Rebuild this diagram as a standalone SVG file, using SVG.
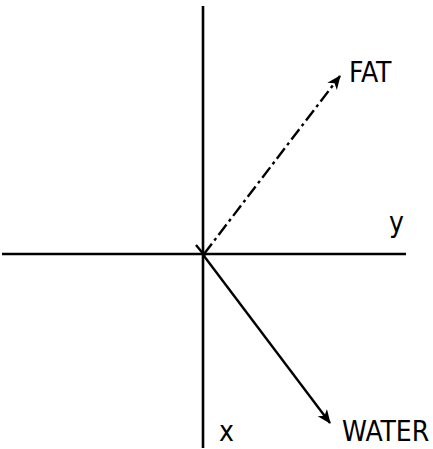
<svg xmlns="http://www.w3.org/2000/svg" width="433" height="449" viewBox="0 0 433 449">
<style>
.ax{stroke:#000;stroke-width:2.6;fill:none}
.vec{stroke:#000;stroke-width:2.4;fill:none}
.lbl{font-family:"DejaVu Sans Condensed","DejaVu Sans","Liberation Sans",sans-serif;font-stretch:condensed;font-size:28px;fill:#000}
</style>
<defs>
<marker id="ah" viewBox="0 0 14 12" refX="13" refY="6" markerWidth="14" markerHeight="12" markerUnits="userSpaceOnUse" orient="auto">
<path d="M0,0 L14,6 L0,12 L4,6 Z" fill="#000"/>
</marker>
</defs>
<rect width="433" height="449" fill="#fff"/>
<g id="axes">
<line class="ax" x1="203" y1="6" x2="203" y2="448"/>
<line class="ax" x1="2" y1="254" x2="406" y2="254"/>
</g>
<g id="connectors">
<line class="vec" x1="196" y1="245" x2="205" y2="256"/>
<line class="vec" x1="204" y1="254" x2="340" y2="76" stroke-dasharray="13 4 3 4" marker-end="url(#ah)"/>
<line class="vec" x1="204" y1="256" x2="330" y2="423" marker-end="url(#ah)"/>
</g>
<g id="fat"><text class="lbl" x="349" y="82">FAT</text></g>
<g id="water"><text class="lbl" x="342" y="441">WATER</text></g>
<g id="y"><text class="lbl" x="389" y="232">y</text></g>
<g id="x"><text class="lbl" x="219" y="441">x</text></g>
</svg>
